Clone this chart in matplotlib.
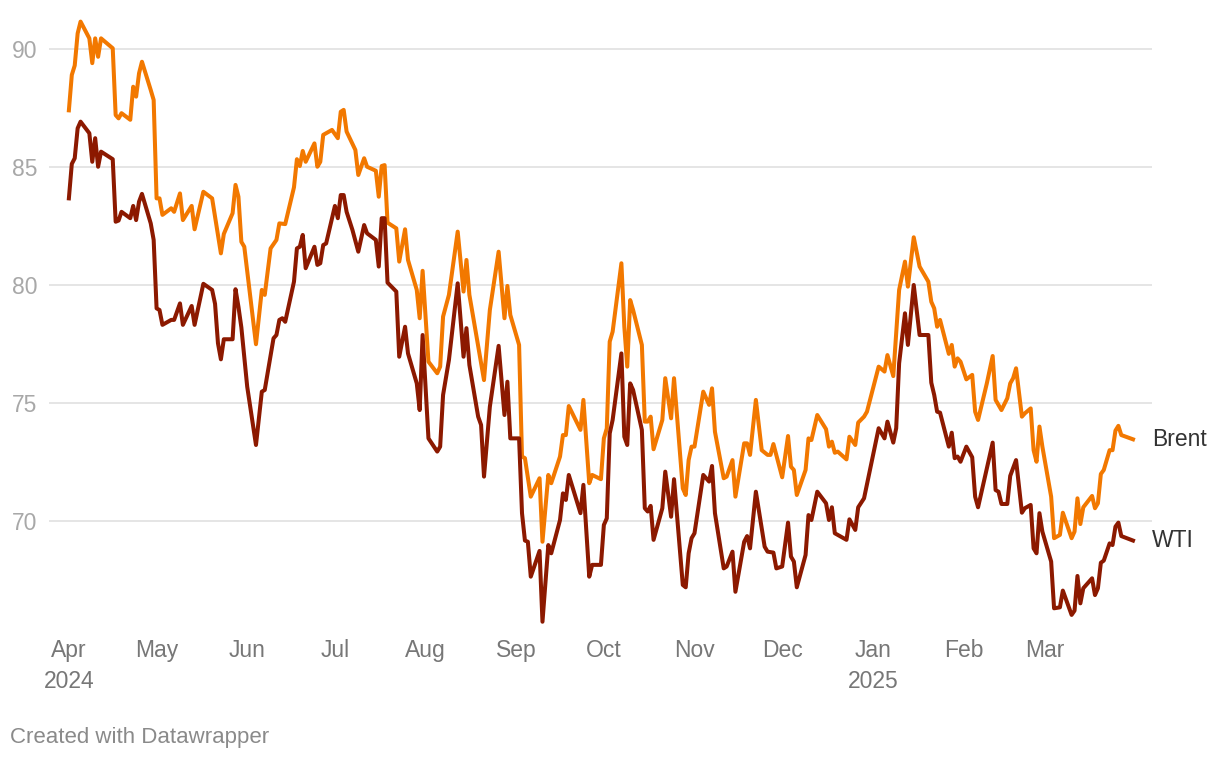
#!/usr/bin/env python3

import pandas as pd
import matplotlib
matplotlib.use('Agg')
import matplotlib.pyplot as plt

plt.rcParams['font.family'] = ['Liberation Sans', 'DejaVu Sans']

# Daily crude prices, $/barrel. Days are counted from 2024-04-01.
start = pd.Timestamp('2024-04-01')

brent_day = [
    0, 1, 2, 3, 4, 7, 8, 9, 10, 11, 15, 16, 17, 18, 21, 22, 23, 24, 25, 28, 29,
    30, 31, 32, 35, 36, 38, 39, 42, 43, 46, 49, 52, 53, 56, 57, 58, 59, 60,
    64, 66, 67, 69, 71, 72, 74, 77, 78, 79, 80, 81, 84, 85, 86, 87, 90,
    92, 93, 94, 95, 98, 99, 101, 102, 105, 106, 107, 108, 109, 112, 113, 115, 116, 119, 120, 121,
    123, 126, 127, 128, 130, 133, 135, 136, 137, 142, 144, 147, 149, 150, 151,
    154, 155, 156, 158, 161, 162, 164, 165, 168, 169, 170, 171, 175, 176, 178, 179, 182,
    183, 184, 185, 186, 189, 190, 191, 192, 193, 196, 197, 198, 199, 200, 203, 204, 206, 207, 210, 211, 212, 213,
    214, 217, 219, 220, 221, 224, 225, 227, 228, 231, 232, 233, 235, 237, 239, 240, 241,
    244, 246, 247, 248, 249, 252, 253, 254, 256, 259, 260, 261, 262, 263, 266, 267, 269, 270, 272, 273,
    277, 279, 280, 282, 284, 286, 287, 289, 291, 294, 295, 296, 297, 298, 301, 302, 303, 304, 305,
    307, 309, 310, 311, 314, 316, 317, 319, 321, 322, 323, 324, 326, 327, 329, 330, 331, 332, 333,
    336, 337, 339, 340, 343, 344, 345, 346, 347, 350, 351, 352, 353, 354, 356, 357, 358, 359, 360, 364,
]
brent = [
    87.4, 88.9, 89.3, 90.66, 91.16, 90.45, 89.4, 90.45, 89.67, 90.45, 90.03, 87.2, 87.06, 87.28, 87.0, 88.4, 87.98, 88.97, 89.46, 88.26, 87.84,
    83.67, 83.67, 82.97, 83.25, 83.1, 83.88, 82.75, 83.35, 82.36, 83.95, 83.67, 81.34, 82.16, 83.04, 84.24, 83.74, 81.83, 81.62,
    77.49, 79.79, 79.58, 81.55, 81.91, 82.61, 82.58, 84.14, 85.33, 85.04, 85.68, 85.22, 86.0, 85.01, 85.22, 86.36, 86.57,
    86.22, 87.34, 87.42, 86.5, 85.72, 84.66, 85.37, 85.01, 84.84, 83.74, 85.04, 85.08, 82.64, 82.4, 80.99, 82.36, 81.06, 79.79, 78.59, 80.6,
    76.75, 76.26, 76.54, 78.66, 79.58, 82.26, 79.72, 81.06, 79.58, 75.97, 78.94, 81.41, 78.59, 79.96, 78.73,
    77.46, 72.73, 72.66, 71.03, 71.81, 69.12, 71.95, 71.6, 72.73, 73.64, 73.64, 74.87, 73.86, 75.13, 71.6, 71.95, 71.77,
    73.5, 73.92, 77.6, 78.02, 80.92, 78.23, 76.54, 79.36, 78.94, 77.46, 74.21, 74.21, 74.42, 73.04, 74.28, 76.05, 74.35, 76.05, 71.38, 71.1, 72.58, 73.15,
    73.15, 75.48, 74.92, 75.62, 73.78, 71.81, 71.88, 72.58, 71.03, 73.29, 73.29, 72.8, 75.13, 73.0, 72.8, 72.8, 73.26,
    71.85, 73.6, 72.3, 72.16, 71.1, 72.16, 73.5, 73.43, 74.49, 73.89, 73.15, 73.36, 72.89, 72.94, 72.61, 73.57, 73.22, 74.17, 74.42, 74.63,
    76.54, 76.33, 77.03, 76.14, 79.79, 80.99, 79.93, 82.02, 80.78, 80.14, 79.29, 79.01, 78.23, 78.52, 77.08, 77.46, 76.54, 76.89, 76.75,
    76.0, 76.19, 74.63, 74.28, 75.83, 76.99, 75.13, 74.7, 75.2, 75.83, 76.05, 76.47, 74.42, 74.56, 74.77, 73.0, 72.51, 74.0, 73.15,
    71.03, 69.27, 69.41, 70.35, 69.27, 69.55, 70.96, 69.87, 70.58, 71.06, 70.54, 70.75, 71.99, 72.16, 73.0, 73.0, 73.83, 74.03, 73.64, 73.46,
]

wti_day = [
    0, 1, 2, 3, 4, 7, 8, 9, 10, 11, 15, 16, 17, 18, 21, 22, 23, 24, 25, 28, 29,
    30, 31, 32, 35, 36, 38, 39, 42, 43, 46, 49, 50, 51, 52, 53, 56, 57, 58, 59,
    61, 64, 66, 67, 70, 71, 72, 73, 74, 77, 78, 79, 80, 81, 84, 85, 86, 87, 88,
    91, 92, 93, 94, 95, 97, 99, 101, 102, 105, 106, 107, 108, 109, 112, 113, 115, 116, 119, 120, 121,
    123, 126, 127, 128, 130, 133, 135, 136, 137, 140, 141, 142, 144, 147, 149, 150, 151,
    154, 155, 156, 157, 158, 161, 162, 164, 165, 168, 169, 170, 171, 175, 176, 178, 179, 182,
    183, 184, 185, 186, 189, 190, 191, 192, 193, 196, 197, 198, 199, 200, 203, 204, 206, 207, 210, 211, 212, 213,
    214, 217, 219, 220, 221, 224, 225, 227, 228, 231, 232, 233, 235, 238, 239, 241, 242,
    244, 246, 247, 248, 249, 252, 253, 254, 256, 259, 260, 261, 262, 266, 267, 269, 270, 272,
    277, 279, 280, 282, 283, 284, 286, 287, 289, 291, 294, 295, 296, 297, 298, 301, 302, 303, 304, 305,
    307, 309, 310, 311, 314, 316, 317, 318, 319, 321, 322, 324, 326, 327, 329, 330, 331, 332, 333,
    336, 337, 339, 340, 343, 344, 345, 346, 347, 350, 351, 352, 353, 354, 356, 357, 358, 359, 360, 364,
]
wti = [
    83.67, 85.13, 85.37, 86.64, 86.92, 86.43, 85.22, 86.22, 85.01, 85.65, 85.33, 82.68, 82.73, 83.1, 82.83, 83.35, 82.75, 83.53, 83.86, 82.61, 81.91,
    79.01, 78.94, 78.31, 78.52, 78.52, 79.22, 78.31, 79.11, 78.31, 80.05, 79.79, 79.2, 77.53, 76.85, 77.7, 77.7, 79.82, 79.08, 78.2,
    75.69, 73.22, 75.48, 75.55, 77.74, 77.88, 78.52, 78.59, 78.44, 80.14, 81.55, 81.62, 82.12, 80.71, 81.62, 80.85, 80.92, 81.69, 81.76,
    83.35, 82.83, 83.81, 83.81, 83.1, 82.33, 81.41, 82.54, 82.19, 81.91, 80.78, 82.83, 82.83, 80.1, 79.72, 76.96, 78.23, 77.1, 75.83, 74.7, 77.88,
    73.5, 72.94, 73.15, 75.34, 76.82, 80.07, 76.96, 78.17, 76.61, 74.42, 74.07, 71.88, 74.84, 77.42, 74.49, 75.9, 73.5,
    73.5, 70.33, 69.17, 69.12, 67.64, 68.73, 65.73, 68.98, 68.63, 70.04, 71.17, 70.89, 71.95, 70.33, 71.53, 67.64, 68.14, 68.14,
    69.83, 70.11, 73.71, 74.28, 77.1, 73.57, 73.22, 75.83, 75.55, 73.86, 70.54, 70.4, 70.64, 69.2, 70.54, 72.09, 70.18, 71.77, 67.29, 67.19, 68.63, 69.27,
    69.48, 71.95, 71.67, 72.33, 70.33, 67.99, 68.07, 68.7, 67.0, 69.12, 69.36, 68.84, 71.24, 68.91, 68.7, 68.66, 67.99,
    68.07, 69.93, 68.49, 68.28, 67.19, 68.56, 70.25, 70.04, 71.24, 70.75, 70.04, 70.58, 69.48, 69.2, 70.07, 69.62, 70.58, 70.96,
    73.93, 73.5, 74.21, 73.32, 73.93, 76.68, 78.8, 77.46, 80.0, 77.88, 77.88, 75.86, 75.34, 74.63, 74.59, 73.15, 73.74, 72.66, 72.73, 72.51,
    73.15, 72.7, 71.03, 70.58, 72.23, 73.32, 71.31, 71.24, 70.72, 70.72, 71.91, 72.58, 70.35, 70.54, 70.68, 68.84, 68.63, 70.33, 69.55,
    68.28, 66.3, 66.34, 67.05, 66.02, 66.2, 67.67, 66.51, 67.15, 67.57, 66.86, 67.15, 68.23, 68.32, 69.05, 68.98, 69.76, 69.93, 69.36, 69.17,
]

month_ticks = ['2024-04-01', '2024-05-01', '2024-06-01', '2024-07-01', '2024-08-01', '2024-09-01',
               '2024-10-01', '2024-11-01', '2024-12-01', '2025-01-01', '2025-02-01', '2025-03-01']
month_labels = ['Apr\n2024', 'May', 'Jun', 'Jul', 'Aug', 'Sep',
                'Oct', 'Nov', 'Dec', 'Jan\n2025', 'Feb', 'Mar']
y_ticks = [70, 75, 80, 85, 90]

assert len(brent_day) == len(brent) and len(wti_day) == len(wti)

brent_x = start + pd.to_timedelta(brent_day, unit='D')
wti_x = start + pd.to_timedelta(wti_day, unit='D')

fig = plt.figure(figsize=(12.2, 7.6), dpi=100)
ax = fig.add_axes([49 / 1220, 130 / 760, 1103 / 1220, 615 / 760])

for y in y_ticks:
    ax.axhline(y, color='#e5e5e5', lw=1.4, zorder=0)

ax.plot(brent_x, brent, color='#f27800', lw=2.9, zorder=3)
ax.plot(wti_x, wti, color='#8c1900', lw=2.9, zorder=3)

ax.set_xlim(start - pd.Timedelta(days=6.8), start + pd.Timedelta(days=370.5))
ax.set_ylim(65.38, 91.44)

ax.set_yticks(y_ticks)
ax.set_yticklabels([str(v) for v in y_ticks])
ax.set_xticks(pd.to_datetime(month_ticks))
ax.set_xticklabels(month_labels)
for lab in ax.get_xticklabels():
    lab.set_linespacing(1.45)

ax.tick_params(axis='y', length=0, pad=8.5, labelsize=16.5, labelcolor='#a8a8a8')
ax.tick_params(axis='x', length=0, pad=6.5, labelsize=16.5, labelcolor='#777777')
for s in ax.spines.values():
    s.set_visible(False)

ax.annotate('Brent', xy=(brent_x[-1], brent[-1]), xytext=(13.7, 0), textcoords='offset points',
            ha='left', va='center', fontsize=16.5, color='#333333')
ax.annotate('WTI', xy=(wti_x[-1], wti[-1]), xytext=(13.7, 0), textcoords='offset points',
            ha='left', va='center', fontsize=16.5, color='#333333')

fig.text(10 / 1220, 22 / 760, 'Created with Datawrapper', ha='left', va='center',
         fontsize=16, color='#8a8a8a')

fig.savefig('out.png', dpi=100)
